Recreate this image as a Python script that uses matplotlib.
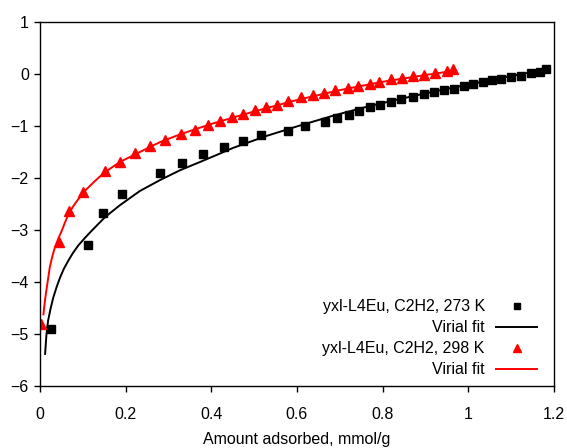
import matplotlib
matplotlib.use("Agg")
import matplotlib.pyplot as plt
from matplotlib.ticker import FuncFormatter

plt.rcParams['font.family'] = ['Liberation Sans', 'DejaVu Sans']

# measured points, 273 K
x_273 = [0.026, 0.112, 0.147, 0.191, 0.280, 0.332, 0.381, 0.430, 0.473, 0.515,
         0.578, 0.619, 0.666, 0.693, 0.721, 0.745, 0.770, 0.795, 0.820, 0.844,
         0.872, 0.896, 0.920, 0.943, 0.966, 0.989, 1.011, 1.034, 1.055, 1.077,
         1.100, 1.122, 1.146, 1.167, 1.182]
y_273 = [-4.91, -3.29, -2.68, -2.31, -1.90, -1.71, -1.54, -1.40, -1.29, -1.18,
         -1.09, -1.00, -0.92, -0.85, -0.78, -0.71, -0.64, -0.59, -0.53, -0.49,
         -0.44, -0.39, -0.35, -0.31, -0.28, -0.24, -0.20, -0.16, -0.12, -0.09,
         -0.06, -0.03, 0.02, 0.04, 0.10]

# measured points, 298 K
x_298 = [0.002, 0.044, 0.068, 0.100, 0.152, 0.187, 0.222, 0.256, 0.291, 0.329,
         0.362, 0.392, 0.420, 0.448, 0.475, 0.503, 0.528, 0.554, 0.580, 0.609,
         0.638, 0.663, 0.688, 0.720, 0.743, 0.770, 0.792, 0.819, 0.845, 0.870,
         0.897, 0.922, 0.950, 0.965]
y_298 = [-4.81, -3.22, -2.63, -2.27, -1.87, -1.69, -1.52, -1.38, -1.26, -1.15,
         -1.07, -0.98, -0.91, -0.83, -0.77, -0.70, -0.64, -0.59, -0.52, -0.45,
         -0.40, -0.36, -0.31, -0.26, -0.23, -0.19, -0.15, -0.10, -0.07, -0.03,
         -0.01, 0.01, 0.05, 0.10]

# virial fit curves
fit_x_273 = [0.012, 0.015, 0.019, 0.025, 0.031, 0.039, 0.047, 0.056, 0.066, 0.077,
             0.089, 0.105, 0.121, 0.152, 0.187, 0.233, 0.280, 0.327, 0.374, 0.420,
             0.451, 0.529, 0.607, 0.685, 0.763, 0.841, 0.918, 0.996, 1.074, 1.183]
fit_y_273 = [-5.38, -5.02, -4.74, -4.50, -4.30, -4.09, -3.91, -3.74, -3.59, -3.44,
             -3.30, -3.15, -3.01, -2.75, -2.52, -2.25, -2.04, -1.85, -1.69, -1.53,
             -1.42, -1.19, -0.99, -0.80, -0.63, -0.48, -0.34, -0.21, -0.08, 0.09]

fit_x_298 = [0.008, 0.012, 0.016, 0.023, 0.029, 0.035, 0.043, 0.051, 0.058, 0.066,
             0.077, 0.089, 0.108, 0.128, 0.140, 0.160, 0.187, 0.233, 0.280, 0.327,
             0.400, 0.500, 0.600, 0.700, 0.800, 0.900, 0.965]
fit_y_298 = [-4.62, -4.33, -4.10, -3.71, -3.50, -3.33, -3.16, -3.01, -2.86, -2.71,
             -2.55, -2.41, -2.22, -2.06, -1.97, -1.84, -1.69, -1.50, -1.31, -1.16,
             -0.96, -0.72, -0.50, -0.31, -0.15, -0.02, 0.06]

x_ticks = [0, 0.2, 0.4, 0.6, 0.8, 1.0, 1.2]
y_ticks = [-6, -5, -4, -3, -2, -1, 0, 1]

fig = plt.figure(figsize=(5.67, 4.48), dpi=100)
ax = fig.add_axes([0.0705, 0.138, 0.9065, 0.813])

ax.plot(x_273, y_273, ls='none', marker='s', ms=5.5, color='black',
        label='yxl-L4Eu, C2H2, 273 K')
ax.plot(fit_x_273, fit_y_273, color='black', lw=1.4, label='Virial fit')
ax.plot(x_298, y_298, ls='none', marker='^', ms=6.5, color='red',
        label='yxl-L4Eu, C2H2, 298 K')
ax.plot(fit_x_298, fit_y_298, color='red', lw=1.4, label='Virial fit')

ax.set_xlim(0, 1.2)
ax.set_ylim(-6, 1)
ax.set_xticks(x_ticks)
ax.set_yticks(y_ticks)
ax.xaxis.set_major_formatter(FuncFormatter(lambda v, p: '%g' % round(v, 2)))
ax.tick_params(direction='out', length=4, width=1, labelsize=11.5)
ax.tick_params(axis='x', pad=11)
ax.tick_params(axis='y', pad=4)
for s in ax.spines.values():
    s.set_linewidth(1)

# slightly higher than the source so the descenders are not clipped
ax.set_xlabel('Amount adsorbed, mmol/g', fontsize=11.5, labelpad=7)

ax.legend(loc='lower right', frameon=False, markerfirst=False, fontsize=11.5,
          handlelength=2.6, handletextpad=0.7, markerscale=0.8,
          labelspacing=0.38, bbox_to_anchor=(0.985, 0.0), borderaxespad=0.15)

fig.savefig('out.png', dpi=100)
